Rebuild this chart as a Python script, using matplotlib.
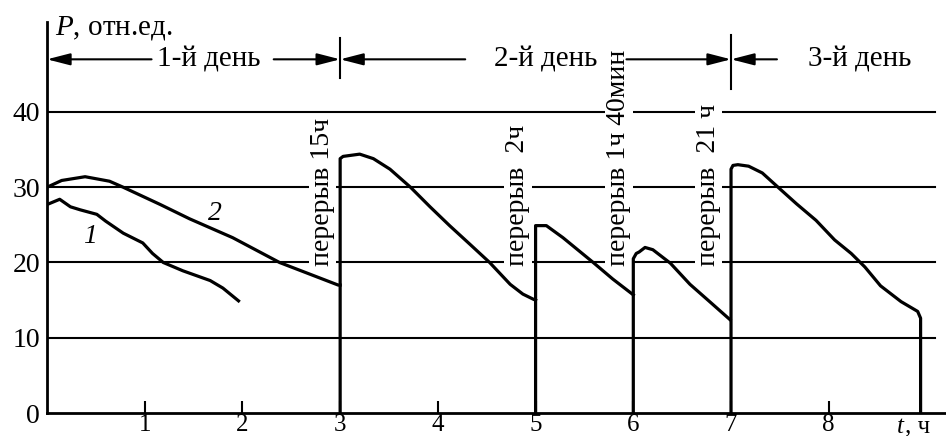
import matplotlib
matplotlib.use('Agg')
import matplotlib.pyplot as plt

plt.rcParams['font.family'] = ['Liberation Serif', 'DejaVu Serif']
plt.rcParams['mathtext.fontset'] = 'custom'
plt.rcParams['mathtext.rm'] = 'Liberation Serif'
plt.rcParams['mathtext.it'] = 'Liberation Serif:italic'

# день 1, кривые 1 и 2
t1 = [0, 0.13, 0.24, 0.34, 0.51, 0.6, 0.78, 0.98, 1.08, 1.19, 1.39, 1.67, 1.8, 1.96]
p1 = [27.7, 28.4, 27.4, 27.0, 26.4, 25.5, 23.9, 22.6, 21.2, 20.0, 18.9, 17.6, 16.6, 14.9]
t2 = [0, 0.15, 0.39, 0.64, 0.78, 1.16, 1.46, 1.9, 2.38, 2.98, 3.0]
p2 = [30.0, 30.9, 31.4, 30.8, 30.0, 27.7, 25.8, 23.3, 20.0, 17.0, 17.0]

# день 2 (три участка) и день 3
tA = [3.0, 3.0, 3.03, 3.2, 3.34, 3.51, 3.72, 3.92, 4.12, 4.33, 4.53, 4.74, 4.87, 4.98, 5.0]
pA = [0, 33.8, 34.1, 34.4, 33.8, 32.4, 30.0, 27.4, 24.9, 22.4, 20.0, 17.1, 15.8, 15.1, 15.0]
tB = [5.0, 5.0, 5.11, 5.28, 5.59, 5.79, 5.99, 6.0]
pB = [0, 24.9, 24.9, 23.3, 20.0, 17.8, 15.8, 15.7]
tC = [6.0, 6.0, 6.03, 6.06, 6.12, 6.2, 6.38, 6.58, 6.79, 6.99]
pC = [0, 20.5, 21.2, 21.4, 22.0, 21.7, 19.9, 17.1, 14.7, 12.4]
tD = [7.0, 7.0, 7.02, 7.07, 7.18, 7.32, 7.49, 7.67, 7.87, 8.06, 8.23, 8.37, 8.53, 8.74, 8.91, 8.94, 8.94]
pD = [0, 32.4, 32.9, 33.0, 32.8, 31.9, 29.9, 27.8, 25.6, 23.0, 21.2, 19.4, 16.9, 14.8, 13.5, 12.6, 0]

x_ticks = [1, 2, 3, 4, 5, 6, 7, 8]
y_ticks = [0, 10, 20, 30, 40]

# перерывы: положение по t и подпись
break_t = [2.82, 4.82, 5.85, 6.77]
break_labels = ['перерыв 15ч', 'перерыв  2ч', 'перерыв 1ч 40мин', 'перерыв  21 ч']
day_bounds = [3, 7]

fig = plt.figure(figsize=(9.46, 4.36), dpi=100)
ax = fig.add_axes([47 / 946, 23 / 436, 899 / 946, 391 / 436])
ax.set_xlim(0, 9.2)
ax.set_ylim(0, 51.96)

for s in ['top', 'right']:
    ax.spines[s].set_visible(False)
for s in ['left', 'bottom']:
    ax.spines[s].set_linewidth(2)

# сетка
for y in y_ticks[1:]:
    ax.axhline(y, xmin=0, xmax=0.988, color='black', lw=1.5, zorder=1)

lw = 2.3
ax.plot(t1, p1, color='black', lw=lw, zorder=3)
ax.plot(t2, p2, color='black', lw=lw, zorder=3)
for t, p in [(tA, pA), (tB, pB), (tC, pC), (tD, pD)]:
    ax.plot(t, p, color='black', lw=lw, zorder=3, solid_joinstyle='round')

ax.text(0.44, 23.4, '1', style='italic', fontsize=20, ha='center', va='center')
ax.text(1.72, 26.5, '2', style='italic', fontsize=20, ha='center', va='center')

for t, lab in zip(break_t, break_labels):
    ax.text(t, 19.6, lab, rotation=90, ha='center', va='bottom', fontsize=20,
            zorder=2, bbox=dict(fc='white', ec='none', pad=1))

# дни
ya = 47.0
ap = dict(arrowstyle='-|>,head_length=0.7,head_width=0.18', color='black',
          lw=1.5, shrinkA=0, shrinkB=0, mutation_scale=20)
ax.annotate('', xy=(0, ya), xytext=(1.07, ya), arrowprops=ap)
ax.annotate('', xy=(3, ya), xytext=(2.32, ya), arrowprops=ap)
ax.annotate('', xy=(3, ya), xytext=(4.28, ya), arrowprops=ap)
ax.annotate('', xy=(7, ya), xytext=(5.93, ya), arrowprops=ap)
ax.annotate('', xy=(7, ya), xytext=(7.47, ya), arrowprops=ap)
ax.text(1.66, ya, '1-й день', fontsize=21, ha='center', va='center')
ax.text(5.1, ya, '2-й день', fontsize=21, ha='center', va='center')
ax.text(8.32, ya, '3-й день', fontsize=21, ha='center', va='center')
ax.plot([day_bounds[0]] * 2, [44.5, 49.8], color='black', lw=1.5)
ax.plot([day_bounds[1]] * 2, [43.1, 50.2], color='black', lw=1.5)

ax.set_xticks(x_ticks)
ax.set_xticklabels([str(v) for v in x_ticks])
ax.set_yticks(y_ticks)
ax.set_yticklabels([str(v) for v in y_ticks])
ax.tick_params(axis='x', direction='in', length=8.5, width=1.5, labelsize=18, pad=1)
ax.tick_params(axis='y', length=0, labelsize=20, pad=5)

ax.text(0.08, 50.3, r'$P$, отн.ед.', fontsize=21, ha='left', va='baseline')
# подпись оси t
ax.text(8.7, -0.35, 't', style='italic', fontsize=18, ha='left', va='top', clip_on=False)
ax.text(8.78, -0.35, ', ч', fontsize=18, ha='left', va='top', clip_on=False)

fig.savefig('out.png', dpi=100)
